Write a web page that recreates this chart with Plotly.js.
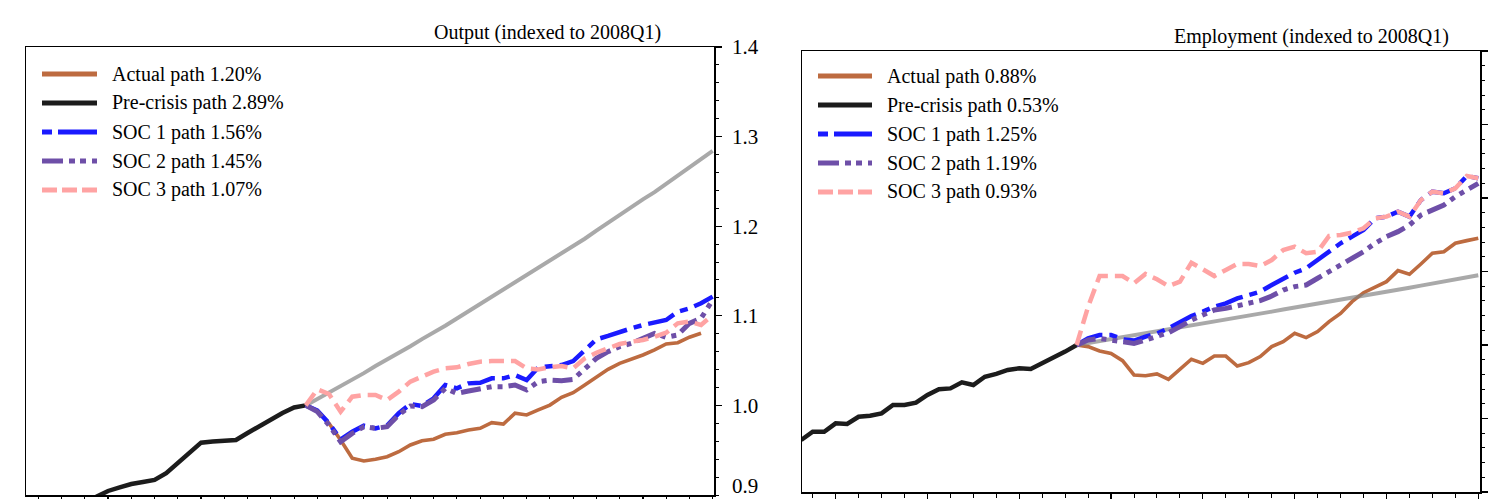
<!DOCTYPE html>
<html><head><meta charset="utf-8">
<script src="https://cdn.plot.ly/plotly-3.0.1.min.js"></script>
<style>html,body{margin:0;padding:0;background:#fff;overflow:hidden}#chart{width:1488px;height:499px}</style>
</head><body><div id="chart"></div>
<script>
// quarter index: 0 = 2002Q1, 24 = 2008Q1, 59 = 2016Q4
const quarters = [];
for (let y = 2002; y <= 2016; y++) for (let q = 1; q <= 4; q++) quarters.push(y + 'Q' + q);

const outLabels = ['Actual path 1.20%', 'Pre-crisis path 2.89%', 'SOC 1 path 1.56%', 'SOC 2 path 1.45%', 'SOC 3 path 1.07%'];
const empLabels = ['Actual path 0.88%', 'Pre-crisis path 0.53%', 'SOC 1 path 1.25%', 'SOC 2 path 1.19%', 'SOC 3 path 0.93%'];

// Output (indexed to 2008Q1)
const outPre = [0.858,0.864,0.870,0.876,0.882,0.889,0.898,0.9045,0.9086,0.9123,0.9145,0.9168,0.9243,0.9353,0.9458,0.9584,0.9597,0.9605,0.9614,0.9692,0.9770,0.9837,0.9915,0.9977,1.0000];
const outActual = [1.000,0.9944,0.9800,0.9614,0.9410,0.9379,0.9398,0.9427,0.9483,0.9558,0.9606,0.9622,0.9677,0.9695,0.9725,0.9744,0.9807,0.9792,0.9912,0.9893,0.9949,1.0004,1.0090,1.0142,1.0228,1.0321,1.0403,1.0470,1.0515,1.0563,1.0619,1.0686,1.0700,1.0761,1.0806];
const outTrend = [1.000,1.007,1.014,1.022,1.029,1.036,1.044,1.051,1.059,1.066,1.074,1.081,1.089,1.097,1.105,1.113,1.121,1.129,1.137,1.145,1.153,1.161,1.170,1.178,1.186,1.195,1.204,1.212,1.221,1.230,1.238,1.247,1.256,1.265,1.274,1.284];
const outSoc1 = [1.0000,0.9941,0.9800,0.9620,0.9707,0.9774,0.9744,0.9774,0.9912,1.0016,0.9993,1.0079,1.0228,1.0191,1.0246,1.0253,1.0302,1.0302,1.0339,1.0283,1.0424,1.0439,1.0450,1.0495,1.0618,1.0737,1.0775,1.0822,1.0860,1.0897,1.0923,1.0953,1.1046,1.1083,1.1140,1.1214];
const outSoc2 = [1.0000,0.9930,0.9781,0.9595,0.9688,0.9762,0.9744,0.9762,0.9893,0.9993,0.9986,1.0060,1.0190,1.0135,1.0161,1.0190,1.0209,1.0209,1.0228,1.0172,1.0265,1.0283,1.0276,1.0291,1.0414,1.0525,1.0600,1.0655,1.0693,1.0749,1.0804,1.0760,1.0786,1.0916,1.0972,1.1177];
const outSoc3 = [1.0000,1.0179,1.0127,0.9930,1.0097,1.0116,1.0116,1.0060,1.0153,1.0265,1.0321,1.0377,1.0414,1.0425,1.0462,1.0488,1.0495,1.0495,1.0495,1.0414,1.0402,1.0425,1.0439,1.0414,1.0525,1.0588,1.0637,1.0685,1.0711,1.0730,1.0767,1.0812,1.0916,1.0935,1.0897,1.1009];

// Employment (indexed to 2008Q1)
const empPre = [0.9354,0.9410,0.9410,0.9467,0.9463,0.9512,0.9519,0.9535,0.9592,0.9592,0.9608,0.9660,0.9699,0.9705,0.9746,0.9728,0.9784,0.9803,0.9830,0.9841,0.9837,0.9875,0.9909,0.9955,1.0000];
const empActual = [1.0000,0.9989,0.9959,0.9943,0.9893,0.9796,0.9791,0.9803,0.9766,0.9837,0.9903,0.9875,0.9925,0.9925,0.9857,0.9880,0.9921,0.9989,1.0023,1.0079,1.0050,1.0091,1.0159,1.0215,1.0295,1.0356,1.0392,1.0431,1.0506,1.0481,1.0551,1.0624,1.0635,1.0692,1.0710,1.0726];
const empTrend = [1.0000,1.0013,1.0026,1.0040,1.0053,1.0066,1.0080,1.0093,1.0106,1.0120,1.0133,1.0146,1.0160,1.0173,1.0187,1.0200,1.0214,1.0227,1.0241,1.0254,1.0268,1.0281,1.0295,1.0308,1.0322,1.0336,1.0349,1.0363,1.0377,1.0390,1.0404,1.0418,1.0432,1.0445,1.0459,1.0475];
const empSoc1 = [1.0000,1.0045,1.0068,1.0068,1.0039,1.0030,1.0057,1.0079,1.0113,1.0159,1.0197,1.0227,1.0261,1.0283,1.0317,1.0340,1.0363,1.0408,1.0454,1.0492,1.0522,1.0578,1.0635,1.0692,1.0737,1.0782,1.0862,1.0873,1.0907,1.0873,1.0986,1.1043,1.1032,1.1066,1.1150,1.1134];
const empSoc2 = [1.0000,1.0034,1.0045,1.0034,1.0016,1.0011,1.0034,1.0061,1.0084,1.0125,1.0170,1.0204,1.0238,1.0249,1.0265,1.0283,1.0302,1.0333,1.0374,1.0397,1.0408,1.0454,1.0499,1.0544,1.0590,1.0635,1.0692,1.0737,1.0771,1.0816,1.0884,1.0918,1.0952,1.1009,1.1054,1.1100];
const empSoc3 = [1.0000,1.0261,1.0469,1.0469,1.0469,1.0420,1.0483,1.0447,1.0401,1.0431,1.0560,1.0515,1.0469,1.0510,1.0551,1.0551,1.0537,1.0578,1.0646,1.0669,1.0624,1.0635,1.0742,1.0748,1.0764,1.0794,1.0862,1.0873,1.0907,1.0873,1.0986,1.1043,1.1032,1.1066,1.1150,1.1134];

const START_PRE = 0, START_POST = 24;

const C = {
  actual: '#BD6B40', pre: '#1c1c1c', trend: 'rgba(128,128,128,0.68)',
  soc1: '#1a1aff', soc2: '#6E4FA8', soc3: '#FFA3A3'
};
const D = {
  soc1: '28px,7px,8px,7px',
  soc2: '20px,6px,5px,6px,5px,6px',
  soc3: '15px,7px'
};
const LD = {
  soc1: '10px,6px,40px,6px',
  soc2: '21px,6px,6px,5px,6px,6px',
  soc3: '15px,5px'
};
const W = {actual: 3.6, pre: 4.5, trend: 4, soc1: 4.5, soc2: 5, soc3: 4.5};

function tr(vals, start, xa, ya, key, isTrend) {
  return {
    type: 'scatter', mode: 'lines',
    x: vals.map((_, i) => start + i), y: vals,
    text: vals.map((_, i) => quarters[start + i]),
    xaxis: xa, yaxis: ya, showlegend: false,
    line: {color: isTrend ? C.trend : C[key], width: isTrend ? W.trend : W[key], dash: isTrend ? 'solid' : (D[key] || 'solid')},
    hoverinfo: 'text+y'
  };
}

const data = [
  tr(outActual, START_POST, 'x', 'y', 'actual'),
  tr(outPre, START_PRE, 'x', 'y', 'pre'),
  tr(outTrend, START_POST, 'x', 'y', 'trend', true),
  tr(outSoc1, START_POST, 'x', 'y', 'soc1'),
  tr(outSoc2, START_POST, 'x', 'y', 'soc2'),
  tr(outSoc3, START_POST, 'x', 'y', 'soc3'),
  tr(empActual, START_POST, 'x2', 'y2', 'actual'),
  tr(empPre, START_PRE, 'x2', 'y2', 'pre'),
  tr(empTrend, START_POST, 'x2', 'y2', 'trend', true),
  tr(empSoc1, START_POST, 'x2', 'y2', 'soc1'),
  tr(empSoc2, START_POST, 'x2', 'y2', 'soc2'),
  tr(empSoc3, START_POST, 'x2', 'y2', 'soc3')
];

const WIDTH = 1488, HEIGHT = 499;
const px = v => v / WIDTH, py = v => 1 - v / HEIGHT;
const FONT = 'Liberation Serif, Times New Roman, serif';

const keys = ['actual', 'pre', 'soc1', 'soc2', 'soc3'];
const shapes = [], annotations = [];
function legend(labels, x0, x1, xt, rows) {
  labels.forEach((lab, i) => {
    const k = keys[i];
    shapes.push({type: 'line', xref: 'paper', yref: 'paper', x0: px(x0), x1: px(x1), y0: py(rows[i]), y1: py(rows[i]),
      line: {color: C[k], width: 5, dash: LD[k] || 'solid'}});
    annotations.push({xref: 'paper', yref: 'paper', x: px(xt), y: py(rows[i]), xanchor: 'left', yanchor: 'middle',
      text: lab, showarrow: false, font: {family: FONT, size: 20, color: '#000'}});
  });
}
legend(outLabels, 42, 97, 110, [74, 103, 132, 161, 190]);
legend(empLabels, 818, 872, 885, [76, 105, 134, 163, 192]);
annotations.push({xref: 'paper', yref: 'paper', x: px(663), y: py(33), xanchor: 'right', yanchor: 'middle',
  text: 'Output (indexed to 2008Q1)', showarrow: false, font: {family: FONT, size: 20, color: '#000'}});
annotations.push({xref: 'paper', yref: 'paper', x: px(1451), y: py(37), xanchor: 'right', yanchor: 'middle',
  text: 'Employment (indexed to 2008Q1)', showarrow: false, font: {family: FONT, size: 20, color: '#000'}});
// lowest tick label of the output axis, kept inside the frame of the picture
annotations.push({xref: 'paper', yref: 'paper', x: px(731), y: 0, xanchor: 'left', yanchor: 'bottom',
  text: '0.9', showarrow: false, font: {family: FONT, size: 21, color: '#000'}, borderpad: 0});

const frame = {showline: true, mirror: true, linecolor: '#000', linewidth: 1.5, showgrid: false, zeroline: false,
  ticks: 'outside', tickcolor: '#000', tickwidth: 1.2};

const layout = {
  width: WIDTH, height: HEIGHT,
  margin: {l: 0, r: 0, t: 0, b: 0},
  paper_bgcolor: '#fff', plot_bgcolor: '#fff',
  showlegend: false,
  font: {family: FONT, size: 20, color: '#000'},
  xaxis: Object.assign({}, frame, {domain: [px(26), px(714.3)], range: [-0.058, 59.14], tick0: 1, dtick: 2, ticklen: 5,
    showticklabels: false}),
  yaxis: Object.assign({}, frame, {domain: [1 - 495 / HEIGHT, 1 - 47 / HEIGHT], range: [0.9, 1.4], side: 'right',
    tickmode: 'array', tickvals: [1.0, 1.1, 1.2, 1.3, 1.4], ticktext: ['1.0', '1.1', '1.2', '1.3', '1.4'],
    ticklen: 6, ticklabelstandoff: 6,
    tickfont: {family: FONT, size: 21, color: '#000'},
    minor: {tick0: 0.9, dtick: 0.02, ticklen: 3.5, ticks: 'outside', tickcolor: '#000', tickwidth: 1}}),
  xaxis2: Object.assign({}, frame, {domain: [px(802), px(1480)], range: [0.068, 59.15], anchor: 'y2',
    tick0: 3, dtick: 8, ticklen: 7, showticklabels: false,
    minor: {tick0: 1, dtick: 2, ticklen: 4, ticks: 'outside', tickcolor: '#000', tickwidth: 1}}),
  yaxis2: Object.assign({}, frame, {domain: [1 - 492 / HEIGHT, 1 - 51 / HEIGHT], range: [0.9, 1.2], side: 'right', anchor: 'x2',
    tick0: 0.9, dtick: 0.05, ticklen: 6, showticklabels: false,
    minor: {dtick: 0.01, ticklen: 3.5, ticks: 'outside', tickcolor: '#000', tickwidth: 1}}),
  shapes: shapes,
  annotations: annotations
};

Plotly.newPlot('chart', data, layout, {displayModeBar: false, staticPlot: true});
</script></body></html>
